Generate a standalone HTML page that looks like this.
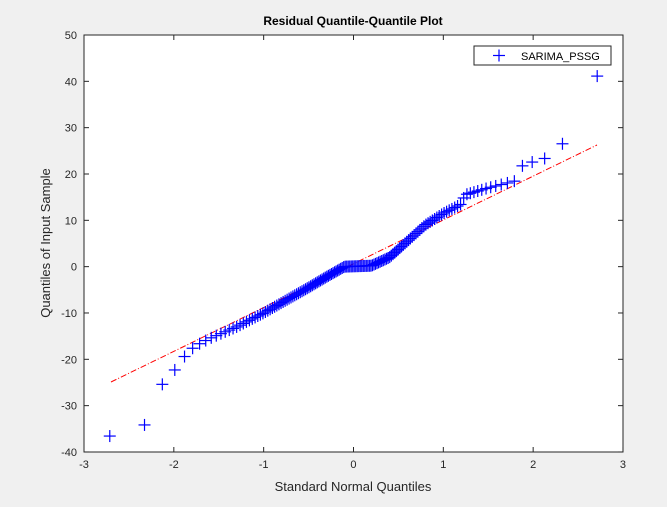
<!DOCTYPE html>
<html><head><meta charset="utf-8"><style>
body{margin:0;background:#f0f0f0;}
svg{display:block;font-family:"Liberation Sans",Arial,sans-serif;}
</style></head><body>
<svg id="s" width="667" height="507" xmlns="http://www.w3.org/2000/svg">
<rect x="0" y="0" width="667" height="507" fill="#f0f0f0"/>
<rect x="84" y="35" width="539" height="417" fill="#fff" stroke="#262626" stroke-width="1"/>
<g id="ticks" stroke="#262626" stroke-width="1"></g>
<g id="labels" font-size="11" fill="#262626"></g>
<line x1="111" y1="382" x2="597" y2="145" stroke="#ff0000" stroke-width="1" stroke-dasharray="6,2,1,2"/>
<g id="pts" stroke="#0000ff" stroke-width="1.2"></g>
<text x="353" y="25" font-size="12" font-weight="bold" text-anchor="middle" fill="#000">Residual Quantile-Quantile Plot</text>
<text x="353" y="491" font-size="13" text-anchor="middle" fill="#262626">Standard Normal Quantiles</text>
<text transform="translate(50,243) rotate(-90)" font-size="13" text-anchor="middle" fill="#262626">Quantiles of Input Sample</text>
<rect x="474" y="46" width="137" height="19" fill="#fff" stroke="#262626"/>
<g stroke="#0000ff" stroke-width="1.2"><line x1="493" y1="55.5" x2="505" y2="55.5"/><line x1="499" y1="49.5" x2="499" y2="61.5"/></g>
<text x="521" y="60" font-size="11" fill="#000">SARIMA_PSSG</text>
</svg>
<script>
var NS="http://www.w3.org/2000/svg";
function px(q){return 84+89.83*(q+3);}
function py(v){return 35+4.633*(50-v);}
var t=document.getElementById("ticks"),l=document.getElementById("labels");
function add(p,tag,a,txt){var e=document.createElementNS(NS,tag);for(var k in a)e.setAttribute(k,a[k]);if(txt!=null)e.textContent=txt;p.appendChild(e);}
for(var q=-3;q<=3;q++){var x=px(q);add(t,"line",{x1:x,y1:452,x2:x,y2:447});add(t,"line",{x1:x,y1:35,x2:x,y2:40});add(l,"text",{x:x,y:468,"text-anchor":"middle"},q);}
for(var v=-40;v<=50;v+=10){var y=py(v);add(t,"line",{x1:84,y1:y,x2:89,y2:y});add(t,"line",{x1:623,y1:y,x2:618,y2:y});add(l,"text",{x:77,y:y+4,"text-anchor":"end"},v);}
function ninv(p){var a=[-39.6968302866538,220.946098424521,-275.928510446969,138.357751867269,-30.6647980661472,2.50662827745924],b=[-54.4760987982241,161.585836858041,-155.698979859887,66.8013118877197,-13.2806815528857],c=[-0.00778489400243029,-0.322396458041136,-2.40075827716184,-2.54973253934373,4.37466414146497,2.93816398269878],d=[0.00778469570904146,0.32246712907004,2.445134137143,3.75440866190742];var q,r;if(p<0.02425){q=Math.sqrt(-2*Math.log(p));return(((((c[0]*q+c[1])*q+c[2])*q+c[3])*q+c[4])*q+c[5])/((((d[0]*q+d[1])*q+d[2])*q+d[3])*q+1);}if(p>1-0.02425){q=Math.sqrt(-2*Math.log(1-p));return-(((((c[0]*q+c[1])*q+c[2])*q+c[3])*q+c[4])*q+c[5])/((((d[0]*q+d[1])*q+d[2])*q+d[3])*q+1);}q=p-0.5;r=q*q;return(((((a[0]*r+a[1])*r+a[2])*r+a[3])*r+a[4])*r+a[5])*q/(((((b[0]*r+b[1])*r+b[2])*r+b[3])*r+b[4])*r+1);}
var K=[[-2.8,-37],[-2.7,-36.5],[-2.3,-34],[-2.1,-24],[-1.97,-22],[-1.85,-18.5],[-1.75,-17],[-1.6,-15.5],[-1.3,-13],[-1.0,-10],[-0.5,-4.5],[-0.3,-2.2],[-0.1,0],[0.2,0.2],[0.4,2],[0.6,5.5],[0.8,9],[1.0,11.5],[1.2,13.5],[1.24,15.5],[1.5,17],[1.8,18.5],[1.85,21.5],[1.97,22.5],[2.1,23],[2.3,25.5],[2.7,41],[2.8,42]];
function f(q){for(var i=0;i<K.length-1;i++){if(q<=K[i+1][0]){var u=(q-K[i][0])/(K[i+1][0]-K[i][0]);return K[i][1]+u*(K[i+1][1]-K[i][1]);}}return 42;}
var n=150,g=document.getElementById("pts");
for(var i=1;i<=n;i++){var q=ninv((i-0.5)/n),v=f(q);var x=px(q),y=py(v);add(g,"line",{x1:x-6,y1:y,x2:x+6,y2:y});add(g,"line",{x1:x,y1:y-6,x2:x,y2:y+6});}
</script>
</body></html>
